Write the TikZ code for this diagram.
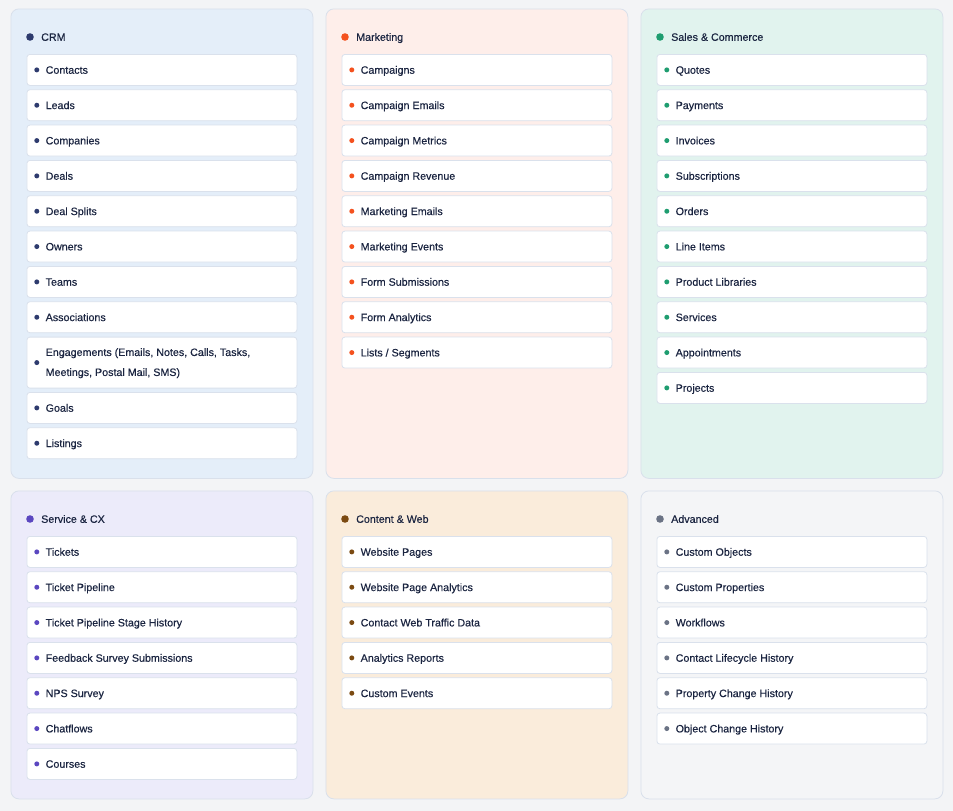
\documentclass[tikz,border=0pt]{standalone}
\usepackage{fontspec}
\setmainfont{Liberation Sans}[FakeBold=0.35]
\definecolor{pagebg}{HTML}{F3F4F6}
\definecolor{txt}{HTML}{1A2440}
\definecolor{itemline}{HTML}{DAE1EC}
\definecolor{panelline}{HTML}{D9E0EB}
\definecolor{crmfill}{HTML}{E4EEF9}
\definecolor{crmdot}{HTML}{2E3B6E}
\definecolor{mktfill}{HTML}{FEEEEA}
\definecolor{mktdot}{HTML}{F4511E}
\definecolor{salesfill}{HTML}{E1F3EE}
\definecolor{salesdot}{HTML}{1F9D70}
\definecolor{svcfill}{HTML}{ECEBFA}
\definecolor{svcdot}{HTML}{5B47C0}
\definecolor{webfill}{HTML}{FAECDB}
\definecolor{webdot}{HTML}{7B4A12}
\definecolor{advfill}{HTML}{F4F5F7}
\definecolor{advdot}{HTML}{6B7385}
\tikzset{
  panelbox/.style={draw=panelline, line width=0.8pt, rounded corners=8pt, anchor=north west,
    minimum width=302pt, inner sep=0pt},
  itembox/.style={draw=itemline, line width=0.8pt, fill=white, rounded corners=3pt, anchor=north west,
    minimum width=270pt, inner sep=0pt},
  itemdot/.style={circle, inner sep=0pt, minimum size=5pt, draw=none},
  headdot/.style={circle, inner sep=0pt, minimum size=7.6pt, draw=none},
  labeltext/.style={anchor=west, inner sep=0pt, text=txt, font={\fontsize{10.7}{13}\selectfont},
    text height=7.66pt, text depth=0pt},
}
\newcommand\mkitem[5]{% name, x, top y, dot colour, text
  \node[itembox, minimum height=31pt] (#1) at (#2,{#3}) {};
  \node[itemdot, fill=#4] (#1-dot) at ([xshift=10.3pt]#1.west) {};
  \node[labeltext] (#1-txt) at ([xshift=19pt]#1.west) {#5};
}
\newcommand\mkhead[5]{% name, panel x, panel y, dot colour, text
  \node[headdot, fill=#4] (#1-hdot) at ({#2+19.5},{#3+28.5}) {};
  \node[labeltext] (#1-h) at ({#2+30.5},{#3+28.5}) {#5};
}
\begin{document}
\begin{tikzpicture}[x=1pt,y=-1pt]
\useasboundingbox (0,0) rectangle (953,811);
\fill[pagebg] (0,0) rectangle (953,811);

% panels
\node[panelbox, fill=crmfill, minimum height=469.5pt] (crm) at (10.5,8.5) {};
\node[panelbox, fill=mktfill, minimum height=469.5pt] (mkt) at (325.5,8.5) {};
\node[panelbox, fill=salesfill, minimum height=469.5pt] (sales) at (640.5,8.5) {};
\node[panelbox, fill=svcfill, minimum height=308pt] (svc) at (10.5,490.5) {};
\node[panelbox, fill=webfill, minimum height=308pt] (web) at (325.5,490.5) {};
\node[panelbox, fill=advfill, minimum height=308pt] (adv) at (640.5,490.5) {};

% headers
\mkhead{crmH}{10.5}{8.5}{crmdot}{CRM}
\mkhead{mktH}{325.5}{8.5}{mktdot}{Marketing}
\mkhead{salesH}{640.5}{8.5}{salesdot}{Sales \& Commerce}
\mkhead{svcH}{10.5}{490.5}{svcdot}{Service \& CX}
\mkhead{webH}{325.5}{490.5}{webdot}{Content \& Web}
\mkhead{advH}{640.5}{490.5}{advdot}{Advanced}

% CRM
\foreach \t [count=\i from 0] in {Contacts,Leads,Companies,Deals,Deal Splits,Owners,Teams,Associations}{
  \mkitem{crm\i}{26.5}{54+35.333*\i}{crmdot}{\t}
}
\node[itembox, minimum height=51pt] (crm8) at (26.5,336.7) {};
\node[itemdot, fill=crmdot] (crm8-dot) at ([xshift=10.3pt]crm8.west) {};
\node[anchor=west, inner sep=0pt, text=txt, align=left, font={\fontsize{10.7}{20}\selectfont}]
  (crm8-txt) at ([xshift=19pt,yshift=-0.6pt]crm8.west) {Engagements (Emails, Notes, Calls, Tasks,\\Meetings, Postal Mail, SMS)};
\mkitem{crm9}{26.5}{392}{crmdot}{Goals}
\mkitem{crm10}{26.5}{427.33}{crmdot}{Listings}

% Marketing
\foreach \t [count=\i from 0] in {Campaigns,Campaign Emails,Campaign Metrics,Campaign Revenue,Marketing Emails,Marketing Events,Form Submissions,Form Analytics,Lists / Segments}{
  \mkitem{mkt\i}{341.5}{54+35.333*\i}{mktdot}{\t}
}

% Sales & Commerce
\foreach \t [count=\i from 0] in {Quotes,Payments,Invoices,Subscriptions,Orders,Line Items,Product Libraries,Services,Appointments,Projects}{
  \mkitem{sales\i}{656.5}{54+35.333*\i}{salesdot}{\t}
}

% Service & CX
\foreach \t [count=\i from 0] in {Tickets,Ticket Pipeline,Ticket Pipeline Stage History,Feedback Survey Submissions,NPS Survey,Chatflows,Courses}{
  \mkitem{svc\i}{26.5}{536+35.333*\i}{svcdot}{\t}
}

% Content & Web
\foreach \t [count=\i from 0] in {Website Pages,Website Page Analytics,Contact Web Traffic Data,Analytics Reports,Custom Events}{
  \mkitem{web\i}{341.5}{536+35.333*\i}{webdot}{\t}
}

% Advanced
\foreach \t [count=\i from 0] in {Custom Objects,Custom Properties,Workflows,Contact Lifecycle History,Property Change History,Object Change History}{
  \mkitem{adv\i}{656.5}{536+35.333*\i}{advdot}{\t}
}
\end{tikzpicture}
\end{document}
